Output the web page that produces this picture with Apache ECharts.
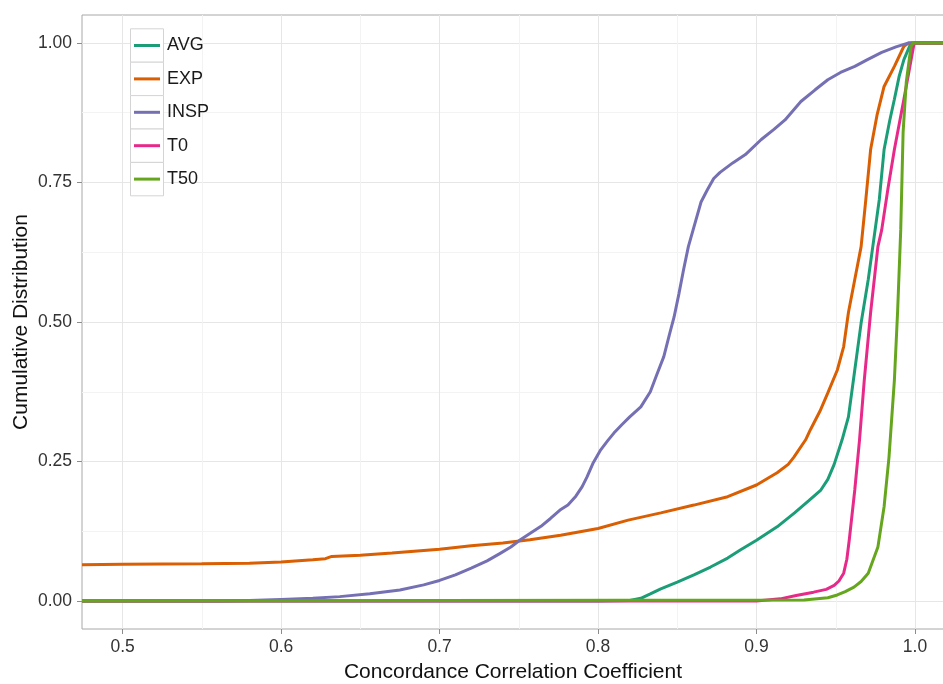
<!DOCTYPE html>
<html>
<head>
<meta charset="utf-8">
<script src="https://cdn.jsdelivr.net/npm/echarts@6/dist/echarts.min.js"></script>
<style>
  html, body { margin: 0; padding: 0; background: #fff; }
  #chart { width: 943px; height: 684px; }
</style>
</head>
<body>
<div id="chart"></div>
<script>
// Empirical cumulative distributions of the concordance correlation coefficient
const seriesNames = ['AVG', 'EXP', 'INSP', 'T0', 'T50'];
const seriesColors = ['#1B9E77', '#D95F02', '#7570B3', '#E7298A', '#66A61E'];

const xTicks = [0.5, 0.6, 0.7, 0.8, 0.9, 1.0];
const xMinorTicks = [0.55, 0.65, 0.75, 0.85, 0.95];
const yTicks = [0, 0.25, 0.5, 0.75, 1.0];
const yMinorTicks = [0.125, 0.375, 0.625, 0.875];

const avgX = [0.4744, 0.80, 0.82, 0.827, 0.833, 0.8396, 0.85, 0.8605, 0.871, 0.8818, 0.89, 0.9, 0.913, 0.924, 0.933, 0.9406, 0.945, 0.949, 0.954, 0.958, 0.962, 0.966, 0.9705, 0.974, 0.9775, 0.9805, 0.984, 0.987, 0.990, 0.993, 0.9975, 1.0, 1.0183];
const avgY = [0, 0, 0.001, 0.005, 0.013, 0.022, 0.034, 0.047, 0.061, 0.077, 0.092, 0.109, 0.133, 0.158, 0.18, 0.199, 0.218, 0.245, 0.289, 0.33, 0.414, 0.498, 0.576, 0.648, 0.72, 0.809, 0.86, 0.899, 0.94, 0.97, 1.0, 1.0, 1.0];

const expX = [0.4744, 0.50, 0.55, 0.58, 0.60, 0.62, 0.628, 0.632, 0.65, 0.67, 0.70, 0.72, 0.74, 0.757, 0.7764, 0.80, 0.819, 0.8396, 0.8605, 0.8818, 0.90, 0.913, 0.92, 0.9236, 0.931, 0.934, 0.94, 0.945, 0.951, 0.955, 0.958, 0.962, 0.966, 0.969, 0.972, 0.976, 0.9805, 0.987, 0.993, 0.996, 1.0183];
const expY = [0.065, 0.066, 0.067, 0.068, 0.070, 0.074, 0.076, 0.080, 0.082, 0.086, 0.093, 0.099, 0.104, 0.11, 0.118, 0.130, 0.145, 0.158, 0.172, 0.187, 0.208, 0.23, 0.245, 0.258, 0.289, 0.307, 0.34, 0.373, 0.414, 0.456, 0.517, 0.576, 0.635, 0.72, 0.809, 0.87, 0.922, 0.958, 0.994, 1.0, 1.0];

const inspX = [0.4744, 0.56, 0.58, 0.60, 0.62, 0.637, 0.656, 0.675, 0.69, 0.70, 0.71, 0.72, 0.73, 0.738, 0.745, 0.751, 0.757, 0.764, 0.77, 0.776, 0.781, 0.786, 0.79, 0.793, 0.797, 0.8017, 0.806, 0.81, 0.815, 0.82, 0.827, 0.833, 0.837, 0.8415, 0.845, 0.848, 0.851, 0.854, 0.857, 0.86, 0.865, 0.869, 0.873, 0.877, 0.885, 0.893, 0.903, 0.911, 0.918, 0.928, 0.937, 0.945, 0.953, 0.962, 0.97, 0.979, 0.988, 0.996, 1.0, 1.0183];
const inspY = [0, 0, 0.001, 0.003, 0.005, 0.008, 0.013, 0.02, 0.029, 0.037, 0.047, 0.059, 0.072, 0.085, 0.097, 0.11, 0.121, 0.134, 0.148, 0.163, 0.172, 0.188, 0.205, 0.222, 0.248, 0.271, 0.287, 0.301, 0.316, 0.33, 0.348, 0.375, 0.405, 0.438, 0.477, 0.509, 0.55, 0.594, 0.635, 0.665, 0.715, 0.737, 0.757, 0.768, 0.785, 0.80, 0.827, 0.845, 0.862, 0.895, 0.916, 0.934, 0.947, 0.958, 0.97, 0.983, 0.993, 1.0, 1.0, 1.0];

const t0X = [0.4744, 0.90, 0.915, 0.925, 0.936, 0.944, 0.949, 0.952, 0.955, 0.957, 0.9585, 0.962, 0.965, 0.968, 0.972, 0.9766, 0.979, 0.983, 0.987, 0.993, 0.9987, 0.9995, 1.0183];
const t0Y = [0, 0, 0.004, 0.01, 0.016, 0.021, 0.028, 0.036, 0.05, 0.075, 0.109, 0.199, 0.289, 0.396, 0.517, 0.635, 0.665, 0.74, 0.809, 0.899, 0.988, 1.0, 1.0];

const t50X = [0.4744, 0.93, 0.945, 0.951, 0.956, 0.9615, 0.966, 0.9705, 0.9766, 0.9805, 0.9836, 0.987, 0.989, 0.991, 0.9925, 0.9945, 0.9975, 0.999, 1.0183];
const t50Y = [0, 0.002, 0.006, 0.011, 0.017, 0.025, 0.035, 0.05, 0.097, 0.169, 0.258, 0.396, 0.517, 0.665, 0.84, 0.93, 0.994, 1.0, 1.0];

const xValues = [avgX, expX, inspX, t0X, t50X];
const yValues = [avgY, expY, inspY, t0Y, t50Y];

const X_MIN = 0.4744, X_MAX = 1.0183, Y_MIN = -0.05, Y_MAX = 1.05;
const FONT = '"Liberation Sans", Arial, sans-serif';

const chart = echarts.init(document.getElementById('chart'), null, { renderer: 'canvas' });

const gridRect = { left: 82, top: 15, right: -1, bottom: 55 };

const series = seriesNames.map((name, i) => ({
  name: name,
  type: 'line',
  xAxisIndex: 0,
  yAxisIndex: 0,
  showSymbol: false,
  symbol: 'none',
  clip: true,
  color: seriesColors[i],
  lineStyle: { width: 3, color: seriesColors[i] },
  emphasis: { disabled: true },
  data: xValues[i].map((x, k) => [x, yValues[i][k]])
}));

// legend keys: one legend per entry so every key sits in its own box
const keyTop = 28.3, keyH = 33.4, keyLeft = 130, keyW = 33;
const legends = seriesNames.map((name, i) => ({
  data: [name],
  left: 134,
  top: keyTop + keyH * i + keyH / 2 - 8.5,
  padding: 0,
  icon: 'rect',
  itemWidth: 26,
  itemHeight: 3,
  selectedMode: false,
  textStyle: { fontFamily: FONT, fontSize: 18, color: '#1a1a1a', padding: [0, 0, 0, 2] }
}));

const keyBoxes = seriesNames.map((name, i) => ({
  type: 'rect',
  z: 1,
  shape: { x: keyLeft + 0.5, y: keyTop + keyH * i + 0.5, width: keyW, height: keyH },
  style: { fill: '#ffffff', stroke: '#D4D4D4', lineWidth: 1 }
}));

const option = {
  animation: false,
  backgroundColor: '#ffffff',
  grid: [
    Object.assign({ show: true, borderColor: '#A8A8A8', borderWidth: 1, backgroundColor: 'transparent',
      containLabel: false, outerBoundsMode: 'none' }, gridRect)
  ],
  xAxis: [
    {
      type: 'value', gridIndex: 0, min: X_MIN, max: X_MAX,
      axisLine: { show: false, onZero: false },
      axisTick: { show: true, customValues: xTicks, length: 5, lineStyle: { color: '#8C8C8C' } },
      axisLabel: { customValues: xTicks, margin: 9, fontFamily: FONT, fontSize: 17.5, color: '#333333',
        formatter: v => v.toFixed(1) },
      splitLine: { show: true, lineStyle: { color: '#E6E6E6', width: 1 } },
      name: 'Concordance Correlation Coefficient',
      nameLocation: 'middle', nameGap: 33, nameMoveOverlap: false,
      nameTextStyle: { fontFamily: FONT, fontSize: 21, color: '#111111' }
    },
    {
      type: 'value', gridIndex: 0, min: X_MIN, max: X_MAX,
      axisLine: { show: false, onZero: false },
      axisTick: { show: false, customValues: xMinorTicks },
      axisLabel: { show: false, customValues: xMinorTicks },
      splitLine: { show: true, lineStyle: { color: '#F3F3F3', width: 1 } }
    }
  ],
  yAxis: [
    {
      type: 'value', gridIndex: 0, min: Y_MIN, max: Y_MAX,
      axisLine: { show: false, onZero: false },
      axisTick: { show: true, customValues: yTicks, length: 5, lineStyle: { color: '#8C8C8C' } },
      axisLabel: { customValues: yTicks, margin: 10, fontFamily: FONT, fontSize: 17.5, color: '#333333',
        formatter: v => v.toFixed(2) },
      splitLine: { show: true, lineStyle: { color: '#E6E6E6', width: 1 } },
      name: 'Cumulative Distribution',
      nameLocation: 'middle', nameGap: 50, nameRotate: 90, nameMoveOverlap: false,
      nameTextStyle: { fontFamily: FONT, fontSize: 21, color: '#111111' }
    },
    {
      type: 'value', gridIndex: 0, min: Y_MIN, max: Y_MAX,
      axisLine: { show: false, onZero: false },
      axisTick: { show: false, customValues: yMinorTicks },
      axisLabel: { show: false, customValues: yMinorTicks },
      splitLine: { show: true, lineStyle: { color: '#F3F3F3', width: 1 } }
    }
  ],
  legend: legends,
  graphic: keyBoxes,
  series: series
};

chart.setOption(option);
</script>
</body>
</html>
